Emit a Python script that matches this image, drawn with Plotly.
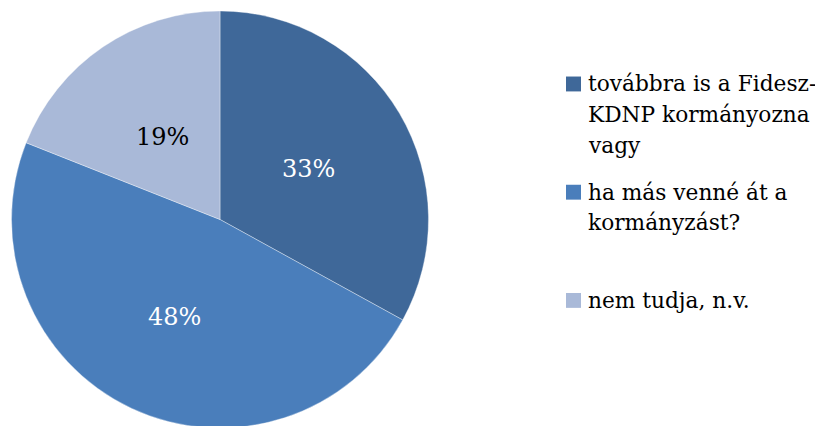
import math
import plotly.graph_objects as go

# ---- data ----
categories = ["továbbra is a Fidesz-<br>KDNP kormányozna<br>vagy",
              "ha más venné át a<br>kormányzást?",
              "nem tudja, n.v."]
values = [33, 48, 19]
colors = ["#3F6899", "#4A7EBB", "#A9B9D8"]
label_colors = ["white", "white", "black"]
label_r = [0.494, 0.513, 0.492]   # label distance from centre, fraction of radius

FONT = "DejaVu Serif"
W, H = 815, 420          # page body has an 8px margin in the browser
TOP = 3
R_PX = (H - TOP) / 2     # pie radius in px
CX, CY = 212, TOP + R_PX # pie centre in figure px

fig = go.Figure(go.Pie(
    labels=categories,
    values=values,
    sort=False,
    direction="clockwise",
    rotation=0,
    marker=dict(colors=colors, line=dict(color="rgba(255,255,255,0.45)", width=0.8)),
    textinfo="none",
    hoverinfo="label+percent",
    showlegend=False,
    domain=dict(x=[(CX - R_PX) / W, (CX + R_PX) / W], y=[0, 1]),
))

annotations = []
shapes = []

# percentage labels placed at the slice mid-angle
total = sum(values)
cum = 0
for v, col, rf in zip(values, label_colors, label_r):
    mid = (cum + v / 2) / total * 2 * math.pi
    cum += v
    r = rf * R_PX
    px = CX + r * math.sin(mid)
    py = CY - r * math.cos(mid)
    annotations.append(dict(
        x=px / W, y=1 - py / H, xref="paper", yref="paper",
        text=f"{round(v / total * 100)}%", showarrow=False,
        font=dict(family=FONT, size=24, color=col),
        xanchor="center", yanchor="middle"))

# manual legend (Word-style evenly spaced entries)
LEG_X_BOX = 558
LEG_X_TEXT = 579
ITEM_TOP = [81, 190, 299]     # baseline of first line of each entry (fig px)
LINE_H = 31
BOX = 15
FS = 21.7
for i, (lab, col) in enumerate(zip(categories, colors)):
    base = ITEM_TOP[i]
    shapes.append(dict(type="rect", xref="paper", yref="paper",
                       x0=LEG_X_BOX / W, x1=(LEG_X_BOX + BOX) / W,
                       y0=1 - base / H, y1=1 - (base - BOX) / H,
                       fillcolor=col, line=dict(width=0)))
    for j, line in enumerate(lab.split("<br>")):
        b = base + j * LINE_H
        annotations.append(dict(
            x=LEG_X_TEXT / W, y=1 - (b - 0.35 * FS) / H, xref="paper", yref="paper",
            text=line, showarrow=False, font=dict(family=FONT, size=FS, color="black"),
            xanchor="left", yanchor="middle", borderpad=0))

fig.update_layout(
    width=W, height=H,
    margin=dict(l=0, r=0, t=TOP, b=0),
    paper_bgcolor="white",
    showlegend=False,
    annotations=annotations,
    shapes=shapes,
)

fig.write_html("out.html")
